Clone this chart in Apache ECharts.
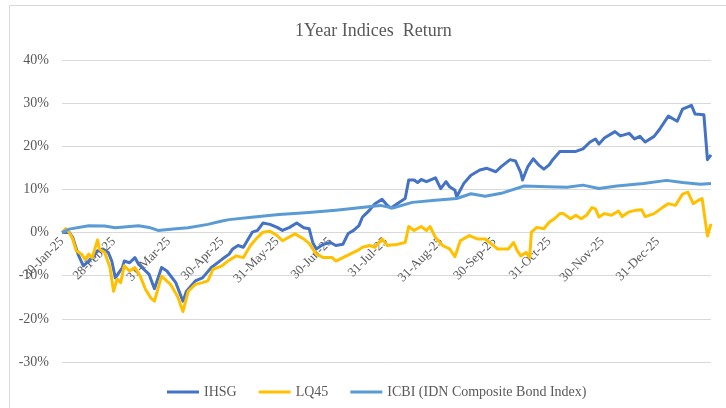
<!DOCTYPE html>
<html>
<head>
    <meta charset="utf-8">
    <title>1Year Indices Return</title>
    <script src="https://cdn.jsdelivr.net/npm/echarts@6/dist/echarts.min.js"></script>
    <style>
        html, body { margin: 0; padding: 0; background: #fff; }
    </style>
</head>
<body>
<div id="main" style="width:726px;height:408px"></div>
<script type="text/javascript">
    // tick labels (month ends)
    var tickDates = ['2025-01-30', '2025-02-28', '2025-03-31', '2025-04-30', '2025-05-31', '2025-06-30',
        '2025-07-31', '2025-08-31', '2025-09-30', '2025-10-31', '2025-11-30', '2025-12-31'];

    // IHSG, cumulative return in %
    var ihsgDates = ['2025-01-30', '2025-02-03', '2025-02-05', '2025-02-08', '2025-02-11', '2025-02-14', '2025-02-17',
        '2025-02-19', '2025-02-22', '2025-02-25', '2025-02-27', '2025-03-01', '2025-03-03', '2025-03-05', '2025-03-06',
        '2025-03-09', '2025-03-12', '2025-03-14', '2025-03-17', '2025-03-20', '2025-03-23', '2025-03-27', '2025-03-30',
        '2025-04-04', '2025-04-08', '2025-04-10', '2025-04-15', '2025-04-19', '2025-04-24', '2025-04-30', '2025-05-04',
        '2025-05-06', '2025-05-09', '2025-05-12', '2025-05-17', '2025-05-20', '2025-05-23', '2025-05-27', '2025-05-31',
        '2025-06-03', '2025-06-07', '2025-06-11', '2025-06-15', '2025-06-18', '2025-06-20', '2025-06-22', '2025-06-26',
        '2025-06-30', '2025-07-03', '2025-07-07', '2025-07-10', '2025-07-13', '2025-07-16', '2025-07-18', '2025-07-20',
        '2025-07-22', '2025-07-25', '2025-07-29', '2025-08-01', '2025-08-03', '2025-08-08', '2025-08-11', '2025-08-13',
        '2025-08-16', '2025-08-18', '2025-08-20', '2025-08-23', '2025-08-28', '2025-08-31', '2025-09-03', '2025-09-05',
        '2025-09-08', '2025-09-09', '2025-09-13', '2025-09-17', '2025-09-22', '2025-09-26', '2025-10-01', '2025-10-04',
        '2025-10-09', '2025-10-12', '2025-10-15', '2025-10-16', '2025-10-19', '2025-10-22', '2025-10-25', '2025-10-28',
        '2025-10-31', '2025-11-02', '2025-11-06', '2025-11-12', '2025-11-15', '2025-11-19', '2025-11-23', '2025-11-26',
        '2025-11-28', '2025-12-01', '2025-12-07', '2025-12-10', '2025-12-15', '2025-12-18', '2025-12-21', '2025-12-24',
        '2025-12-29', '2026-01-01', '2026-01-06', '2026-01-11', '2026-01-14', '2026-01-19', '2026-01-21', '2026-01-26',
        '2026-01-28', '2026-01-30'];
    var ihsgValues = [0, 0.1, -1.1, -5.0, -7.7, -6.6, -5.4,
        -4.2, -3.8, -4.6, -6.6, -10.5, -9.3, -8.1, -6.6,
        -7.0, -5.8, -7.3, -8.5, -9.7, -13.0, -8.1, -8.9,
        -11.6, -15.9, -13.6, -11.2, -10.5, -8.1, -6.2, -5.0,
        -3.8, -3.0, -3.4, 0.1, 0.5, 2.2, 1.9, 1.2,
        0.5, 1.2, 2.2, 1.1, 0.9, -2.3, -3.8, -2.7,
        -2.3, -3.0, -2.7, -0.2, 0.5, 1.6, 3.6, 4.4,
        5.2, 6.7, 7.7, 6.3, 5.7, 7.1, 7.9, 12.2,
        12.2, 11.6, 12.3, 11.8, 12.7, 10.2, 11.8, 10.6,
        9.8, 8.3, 11.4, 13.3, 14.5, 14.9, 14.1, 15.3,
        16.9, 16.6, 13.9, 12.2, 15.3, 17.1, 15.7, 14.7,
        15.7, 16.9, 18.8, 18.8, 18.8, 19.4, 21.0, 21.7,
        20.5, 21.9, 23.4, 22.4, 23.0, 21.7, 22.3, 21.0,
        22.3, 23.9, 27.0, 25.8, 28.6, 29.5, 27.5, 27.3,
        16.9, 18.0];

    // LQ45, cumulative return in %
    var lq45Dates = ['2025-01-30', '2025-02-01', '2025-02-03', '2025-02-05', '2025-02-07', '2025-02-10', '2025-02-12',
        '2025-02-14', '2025-02-16', '2025-02-19', '2025-02-20', '2025-02-23', '2025-02-26', '2025-02-28', '2025-03-02',
        '2025-03-04', '2025-03-06', '2025-03-09', '2025-03-12', '2025-03-15', '2025-03-18', '2025-03-21', '2025-03-23',
        '2025-03-27', '2025-04-01', '2025-04-05', '2025-04-08', '2025-04-11', '2025-04-15', '2025-04-19', '2025-04-22',
        '2025-04-25', '2025-04-30', '2025-05-04', '2025-05-08', '2025-05-12', '2025-05-16', '2025-05-20', '2025-05-23',
        '2025-05-27', '2025-05-31', '2025-06-03', '2025-06-10', '2025-06-15', '2025-06-18', '2025-06-22', '2025-06-26',
        '2025-07-01', '2025-07-03', '2025-07-07', '2025-07-11', '2025-07-15', '2025-07-18', '2025-07-22', '2025-07-25',
        '2025-07-29', '2025-08-01', '2025-08-04', '2025-08-06', '2025-08-11', '2025-08-13', '2025-08-16', '2025-08-20',
        '2025-08-23', '2025-08-25', '2025-08-28', '2025-09-01', '2025-09-05', '2025-09-08', '2025-09-11', '2025-09-16',
        '2025-09-21', '2025-09-25', '2025-09-29', '2025-10-02', '2025-10-08', '2025-10-11', '2025-10-13', '2025-10-15',
        '2025-10-18', '2025-10-20', '2025-10-21', '2025-10-24', '2025-10-28', '2025-10-31', '2025-11-03', '2025-11-06',
        '2025-11-08', '2025-11-12', '2025-11-15', '2025-11-18', '2025-11-21', '2025-11-24', '2025-11-26', '2025-11-28',
        '2025-12-01', '2025-12-05', '2025-12-09', '2025-12-11', '2025-12-15', '2025-12-19', '2025-12-22', '2025-12-24',
        '2025-12-29', '2026-01-03', '2026-01-06', '2026-01-10', '2026-01-14', '2026-01-17', '2026-01-20', '2026-01-23',
        '2026-01-25', '2026-01-28', '2026-01-30'];
    var lq45Values = [0, 0.9, 0.1, -1.5, -4.2, -5.0, -6.2,
        -5.0, -5.8, -1.7, -3.8, -4.6, -8.1, -13.6, -10.8,
        -11.6, -7.7, -8.9, -8.1, -10.1, -13.2, -15.2, -15.9,
        -10.1, -12.0, -14.8, -18.3, -13.6, -12.0, -11.6, -11.2,
        -8.5, -7.7, -6.4, -5.4, -5.8, -3.0, -1.1, 0.1,
        0.3, -0.7, -1.9, -0.3, -1.5, -2.5, -5.0, -5.8,
        -5.8, -6.6, -5.8, -5.0, -4.2, -3.4, -3.0, -3.4,
        -1.5, -3.0, -2.8, -2.8, -2.3, 1.4, 0.5, 1.4,
        0.5, 1.4, -1.1, -3.0, -3.8, -5.6, -1.9, -0.7,
        -1.5, -1.5, -2.8, -3.8, -3.8, -2.3, -4.2, -5.4,
        -4.6, -5.8, 0.1, 1.2, 0.9, 2.4, 3.2, 4.4,
        4.4, 3.2, 4.0, 3.2, 4.0, 5.8, 5.5, 3.6,
        4.4, 4.0, 5.0, 3.7, 4.8, 5.2, 5.3, 3.7,
        4.4, 5.9, 6.7, 6.3, 8.9, 9.4, 6.7, 7.5,
        7.9, -0.8, 2.0];

    // ICBI (IDN Composite Bond Index), cumulative return in %
    var icbiDates = ['2025-01-30', '2025-02-03', '2025-02-14', '2025-02-23', '2025-03-01', '2025-03-14', '2025-03-20',
        '2025-03-25', '2025-04-04', '2025-04-11', '2025-04-22', '2025-04-30', '2025-05-04', '2025-05-18', '2025-06-01',
        '2025-06-16', '2025-07-03', '2025-07-20', '2025-07-28', '2025-08-04', '2025-08-15', '2025-08-28', '2025-09-09',
        '2025-09-17', '2025-09-25', '2025-10-04', '2025-10-17', '2025-10-30', '2025-11-10', '2025-11-19', '2025-11-28',
        '2025-12-08', '2025-12-23', '2026-01-05', '2026-01-14', '2026-01-24', '2026-01-30'];
    var icbiValues = [0, 0.8, 1.6, 1.5, 1.1, 1.6, 1.2,
        0.5, 0.9, 1.1, 1.9, 2.7, 3.0, 3.6, 4.2,
        4.6, 5.2, 5.9, 6.3, 5.7, 7.0, 7.5, 7.9,
        9.0, 8.4, 9.1, 10.8, 10.6, 10.5, 11.0, 10.2,
        10.8, 11.4, 12.1, 11.6, 11.2, 11.4];

    function pairs(dates, values) {
        return dates.map(function (d, i) {
            return [d, values[i]];
        });
    }

    var yMin = -30, yMax = 40;
    var gridTop = 60, gridBottom = 46, chartH = 408;
    // the date axis sits on the 0% line, like the Excel original
    var plotH = chartH - gridTop - gridBottom;
    var zeroShift = -plotH * (0 - yMin) / (yMax - yMin);

    var myChart = echarts.init(document.getElementById('main'));
    var font = '"Liberation Serif", "Times New Roman", serif';
    var grey = '#595959';

    option = {
        animation: false,
        textStyle: { fontFamily: font },
        title: {
            text: '1Year Indices  Return',
            left: 290,
            top: 17,
            textStyle: { fontFamily: font, fontSize: 18, fontWeight: 'normal', color: grey }
        },
        legend: {
            bottom: 4,
            left: 162,
            itemWidth: 32,
            itemHeight: 3,
            itemGap: 22,
            icon: 'rect',
            textStyle: { fontFamily: font, fontSize: 14, color: grey },
            data: ['IHSG', 'LQ45', 'ICBI (IDN Composite Bond Index)']
        },
        grid: { left: 62, right: 15, top: gridTop, bottom: gridBottom },
        xAxis: {
            type: 'time',
            min: '2025-01-30',
            max: '2026-01-30',
            offset: zeroShift,
            axisLine: { onZero: false, lineStyle: { color: '#d9d9d9' } },
            axisTick: { show: false },
            splitLine: { show: false },
            axisLabel: {
                rotate: 45,
                margin: 7,
                fontFamily: font,
                fontSize: 13,
                color: grey,
                hideOverlap: false,
                customValues: tickDates.map(function (d) {
                    return echarts.number.parseDate(d).getTime();
                }),
                formatter: '{dd}-{MMM}-{yy}'
            }
        },
        yAxis: {
            type: 'value',
            min: yMin,
            max: yMax,
            interval: 10,
            axisLine: { show: false },
            axisTick: { show: false },
            splitLine: { lineStyle: { color: '#d9d9d9', width: 1 } },
            axisLabel: {
                margin: 13,
                fontFamily: font,
                fontSize: 14,
                color: grey,
                formatter: '{value}%'
            }
        },
        series: [{
            name: 'IHSG',
            type: 'line',
            z: 5,
            showSymbol: false,
            lineStyle: { width: 3, color: '#4472C4', join: 'round' },
            itemStyle: { color: '#4472C4' },
            data: pairs(ihsgDates, ihsgValues)
        }, {
            name: 'LQ45',
            type: 'line',
            z: 5,
            showSymbol: false,
            lineStyle: { width: 3, color: '#FFC000', join: 'round' },
            itemStyle: { color: '#FFC000' },
            data: pairs(lq45Dates, lq45Values)
        }, {
            name: 'ICBI (IDN Composite Bond Index)',
            type: 'line',
            z: 5,
            showSymbol: false,
            lineStyle: { width: 3, color: '#5B9BD5', join: 'round' },
            itemStyle: { color: '#5B9BD5' },
            data: pairs(icbiDates, icbiValues)
        }],
        graphic: [{
            type: 'rect',
            silent: true,
            shape: { x: 9.5, y: 5.5, width: 740, height: 420 },
            style: { fill: null, stroke: '#d9d9d9', lineWidth: 1 }
        }]
    };
    myChart.setOption(option);
</script>
</body>
</html>
